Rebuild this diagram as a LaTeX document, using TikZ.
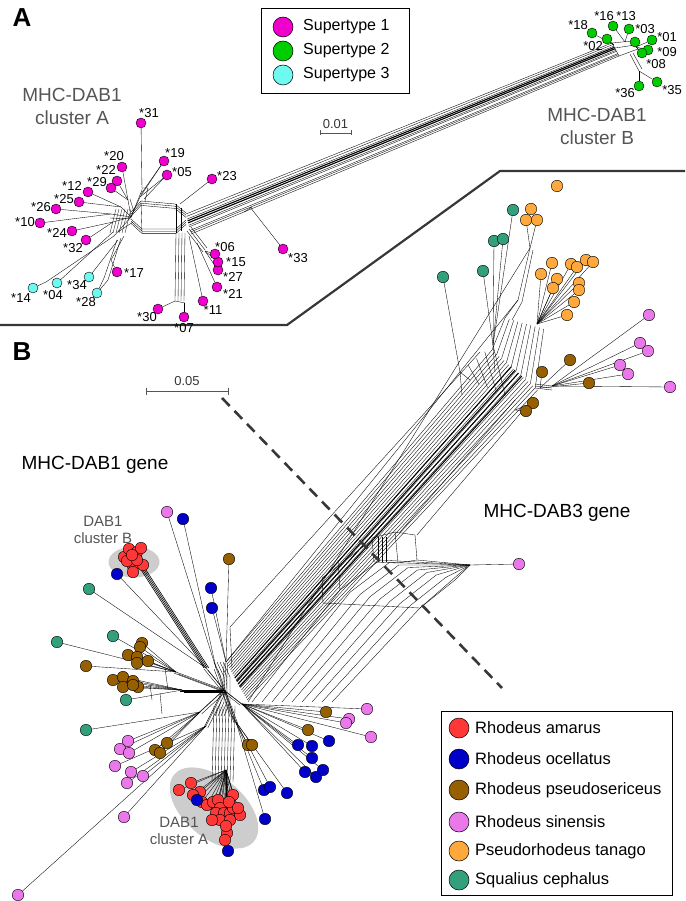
\documentclass[tikz,border=0pt]{standalone}
\usepackage{fontspec}
\setmainfont{Liberation Sans}
\usetikzlibrary{calc,backgrounds}

\definecolor{supone}{RGB}{240,0,205}
\definecolor{suptwo}{RGB}{0,205,0}
\definecolor{supthree}{RGB}{110,250,240}
\definecolor{amarus}{RGB}{255,55,55}
\definecolor{ocellatus}{RGB}{0,0,200}
\definecolor{pseudo}{RGB}{150,95,0}
\definecolor{sinensis}{RGB}{235,120,235}
\definecolor{tanago}{RGB}{255,168,60}
\definecolor{cephalus}{RGB}{50,160,125}
\definecolor{inkgray}{RGB}{55,55,55}
\definecolor{textgray}{RGB}{85,85,85}
\definecolor{ovalgray}{RGB}{205,205,205}

\tikzset{
  tip/.style={circle,draw,inner sep=0pt,minimum size=10pt,line width=0.4pt},
  leaf/.style={circle,draw,inner sep=0pt,minimum size=11.5pt,line width=0.4pt},
  key/.style={circle,draw,inner sep=0pt,minimum size=20pt,line width=0.5pt},
  sup1/.style={tip,fill=supone},
  sup2/.style={tip,fill=suptwo},
  sup3/.style={tip,fill=supthree},
  ram/.style={leaf,fill=amarus},
  roc/.style={leaf,fill=ocellatus},
  rps/.style={leaf,fill=pseudo},
  rsi/.style={leaf,fill=sinensis},
  pta/.style={leaf,fill=tanago},
  sce/.style={leaf,fill=cephalus},
  tag/.style={font=\fontsize{13}{13}\selectfont,inner sep=0pt},
  title/.style={font=\fontsize{26}{26}\selectfont\bfseries},
  head/.style={font=\fontsize{19}{23}\selectfont,align=center},
  small head/.style={font=\fontsize{15}{17}\selectfont,align=center,text=textgray},
  keytext/.style={anchor=west,inner sep=0pt},
  bar/.style={draw=textgray,line width=0.6pt},
  net/.style={line width=0.35pt},
  fat/.style={line width=1.1pt},
  border/.style={draw=inkgray,line width=2.2pt},
}

\begin{document}
\begin{tikzpicture}[x=1pt,y=-1pt]
  \useasboundingbox (0,0) rectangle (685,901);

  % panel letters and frame
  \node[title] (lA) at (22,18) {A};
  \node[title] (lB) at (22,352) {B};
  \draw[border] (0,325) -- (287,325) -- (500,171) -- (685,171);

  % legend of panel A
  \node[draw,line width=0.6pt,minimum width=148pt,minimum height=85pt] (keyA) at (335,50.5) {};
  \node[key,fill=supone] (k1) at (283,27) {};
  \node[key,fill=suptwo] (k2) at (283,51) {};
  \node[key,fill=supthree] (k3) at (283,75) {};
  \node[keytext,font=\fontsize{16}{16}\selectfont] (t1) at (303,27) {Supertype 1};
  \node[keytext,font=\fontsize{16}{16}\selectfont] (t2) at (303,51) {Supertype 2};
  \node[keytext,font=\fontsize{16}{16}\selectfont] (t3) at (303,75) {Supertype 3};

  \node[head,text=textgray] (hA) at (72,106) {MHC-DAB1\\cluster A};
  \node[head,text=textgray] (hB) at (597,126) {MHC-DAB1\\cluster B};

  % scale bars
  \coordinate (sa1) at (320,133);
  \coordinate (sa2) at (351,133);
  \draw[bar] (sa1) -- (sa2);
  \draw[bar] (320,130.5) -- (320,135.5);
  \draw[bar] (351,130.5) -- (351,135.5);
  \node[font=\fontsize{13}{13}\selectfont,text=inkgray] (sal) at (335.5,124) {0.01};
  \coordinate (sb1) at (146,391);
  \coordinate (sb2) at (228,391);
  \draw[bar] (sb1) -- (sb2);
  \draw[bar] (146,387.5) -- (146,394.5);
  \draw[bar] (228,387.5) -- (228,394.5);
  \node[font=\fontsize{13}{13}\selectfont,text=inkgray] (sbl) at (187,381) {0.05};

  % gene split
  \draw[inkgray,line width=2.6pt,dash pattern=on 11pt off 7pt] (222,398) -- (502,688);
  \node[head] (g1) at (95,465) {MHC-DAB1 gene};
  \node[head] (g3) at (557,513) {MHC-DAB3 gene};
  \node[small head] (dB) at (103,530) {DAB1\\cluster B};
  \node[small head] (dA) at (179,831) {DAB1\\cluster A};

  % legend of panel B
  \node[draw,line width=0.6pt,minimum width=231pt,minimum height=184pt] (keyB) at (556.5,803) {};
  \foreach \y/\c/\s [count=\i] in {728/amarus/Rhodeus amarus,759/ocellatus/Rhodeus ocellatus,
      790/pseudo/Rhodeus pseudosericeus,822/sinensis/Rhodeus sinensis,
      851/tanago/Pseudorhodeus tanago,880/cephalus/Squalius cephalus} {
    \node[key,fill=\c] (s\i) at (459,\y) {};
    \node[keytext,font=\fontsize{16.5}{16.5}\selectfont] (u\i) at (475,\y) {\s};
  }

  % panel A, cluster A
  \node[sup1] (a31) at (141,123) {};
  \node[sup1] (a20) at (122,167) {};
  \node[sup1] (a19) at (164,161) {};
  \node[sup1] (a05) at (167,175) {};
  \node[sup1] (a22) at (117,181) {};
  \node[sup1] (a29) at (111,188) {};
  \node[sup1] (a12) at (88,192) {};
  \node[sup1] (a25) at (79,202) {};
  \node[sup1] (a26) at (56,209) {};
  \node[sup1] (a10) at (40,223) {};
  \node[sup1] (a24) at (72,231) {};
  \node[sup1] (a32) at (86,240) {};
  \node[sup1] (a17) at (117,272) {};
  \node[sup3] (a34) at (89,277) {};
  \node[sup3] (a04) at (57,283) {};
  \node[sup3] (a14) at (33,288) {};
  \node[sup3] (a28) at (97,293) {};
  \node[sup1] (a30) at (158,309) {};
  \node[sup1] (a07) at (184,317) {};
  \node[sup1] (a11) at (203,301) {};
  \node[sup1] (a21) at (217,287) {};
  \node[sup1] (a27) at (218,270) {};
  \node[sup1] (a15) at (218,262) {};
  \node[sup1] (a06) at (215,254) {};
  \node[sup1] (a23) at (212,179) {};
  \node[sup1] (a33) at (283,249) {};
  \foreach \p/\s in {(149,113)/31,(114,156)/20,(175,153)/19,(106,170)/22,(182,172)/05,
      (97,182)/29,(227,176)/23,(72,186)/12,(64,199)/25,(41,207)/26,(25,222)/10,
      (57,233)/24,(73,248)/32,(225,247)/06,(236,262)/15,(233,277)/27,(298,258)/33,
      (134,273)/17,(77,285)/34,(233,294)/21,(21,298)/14,(53,295)/04,(86,302)/28,
      (213,310)/11,(147,317)/30,(184,328)/07}
    \node[tag] (n\s) at \p {*\s};

  % panel A, cluster B
  \node[sup2] (b18) at (592,33) {};
  \node[sup2] (b16) at (613,26) {};
  \node[sup2] (b13) at (629,29) {};
  \node[sup2] (b03) at (635,42) {};
  \node[sup2] (b02) at (607,39) {};
  \node[sup2] (b01) at (652,40) {};
  \node[sup2] (b09) at (648,50) {};
  \node[sup2] (b08) at (642,53) {};
  \node[sup2] (b36) at (639,86) {};
  \node[sup2] (b35) at (657,82) {};
  \foreach \p/\s in {(578,25)/18,(604,16)/16,(626,16)/13,(645,29)/03,(593,46)/02,
      (667,37)/01,(667,52)/09,(656,64)/08,(625,93)/36,(672,90)/35}
    \node[tag] (n\s) at \p {*\s};

  % panel B, tips
  \foreach \p [count=\i] in {(124,557),(129,549),(137,552),(141,548),(133,566),
      (143,565),(133,572),(127,561),(137,560),(132,555)}
    \node[ram] (rb\i) at \p {};
  \foreach \p [count=\i] in {(179,790),(191,783),(200,792),(193,795),(202,802),(207,805),
      (213,802),(218,800),(220,808),(216,813),(224,813),(230,813),(233,808),(240,815),
      (233,795),(229,802),(227,833),(225,840),(220,820),(230,820),(238,808),(212,820),(226,826)}
    \node[ram] (ra\i) at \p {};
  \foreach \p [count=\i] in {(183,519),(117,574),(211,588),(212,608),(197,800),(228,851),
      (298,745),(312,746),(329,741),(312,758),(305,772),(316,777),(323,770),
      (264,790),(270,787),(287,793),(265,819)}
    \node[roc] (oc\i) at \p {};
  \foreach \p [count=\i] in {(229,559),(142,643),(140,647),(128,655),(137,657),(137,663),
      (148,661),(86,666),(113,680),(123,677),(123,687),(133,681),(138,687),(133,685),
      (155,750),(160,753),(167,743),(248,745),(252,745),(326,712),(308,730),
      (570,360),(542,372),(589,383),(533,403),(526,411)}
    \node[rps] (ps\i) at \p {};
  \foreach \p [count=\i] in {(167,512),(128,741),(120,749),(129,753),(115,766),(131,772),
      (143,776),(127,783),(124,817),(18,895),(367,709),(349,719),(346,723),(371,737),
      (519,564),(649,315),(640,343),(648,351),(620,365),(628,374),(670,387)}
    \node[rsi] (si\i) at \p {};
  \foreach \p [count=\i] in {(557,186),(531,209),(526,220),(537,220),(552,263),(541,274),
      (571,264),(577,267),(586,260),(593,262),(557,279),(553,288),(579,283),(579,290),
      (574,302),(567,315)}
    \node[pta] (ta\i) at \p {};
  \foreach \p [count=\i] in {(89,589),(57,642),(113,636),(126,700),(86,730),
      (443,277),(483,271),(494,241),(503,239),(513,210)}
    \node[sce] (ce\i) at \p {};

  \begin{scope}[on background layer]
    % clusters marked in grey
    \fill[ovalgray] (134,562) ellipse [x radius=25.5, y radius=15.5];
    \fill[ovalgray,rotate around={-40:(214,808)}] (214,808) ellipse [x radius=52, y radius=30];

    % panel A, network of cluster A
    \foreach \o in {0,2.2,4.4} {
      \draw[net] (131,{212+\o}) -- (141,{201+\o}) -- (175,{204+\o}) -- (186,{213+\o});
      \draw[net] (131,{219+\o}) -- (142,{229+\o}) -- (176,{229+\o}) -- (186,{220+\o});
    }
    \draw[net] (141,201) -- (142,233.4);
    \draw[net] (176,204) -- (176,233.4);
    \draw[net] (181,208) -- (181,231);
    \foreach \x in {116,119,...,131} \draw[net] (\x,209) -- ({\x-6},233);
    \coordinate (lc) at (131,217);
    \coordinate (j31) at (142,190);
    \coordinate (j19) at (140,197);
    \coordinate (j20) at (128,200);
    \coordinate (j12) at (121,207);
    \coordinate (j26) at (111,214);
    \coordinate (j24) at (113,222);
    \coordinate (jcy) at (114,236);
    \draw[net] (a31) -- (j31) -- (lc);
    \draw[net] (142,188) -- (148,188) -- (145,201);
    \draw[net] (a19) -- (j19) -- (lc);
    \draw[net] (a05) -- (j19);
    \draw[net] (162,164) -- (141,194);
    \draw[net] (165,177) -- (144,199);
    \foreach \n in {a20,a22,a29} \draw[net] (\n) -- (j20);
    \draw[net] (j20) -- (lc);
    \draw[net] (130,199) -- (134,212);
    \foreach \n in {a12,a25} \draw[net] (\n) -- (j12);
    \draw[net] (j12) -- (lc);
    \foreach \n in {a26,a10} \draw[net] (\n) -- (j26);
    \draw[net] (j26) -- (lc);
    \draw[net] (110,218) -- (131,219);
    \foreach \n in {a24,a32} \draw[net] (\n) -- (j24);
    \draw[net] (j24) -- (lc);
    \draw[net] (a14) -- (46,282) -- (jcy);
    \draw[net] (a04) -- (113,232);
    \draw[net] (a34) -- (118,240);
    \draw[net] (a28) -- (108,280) -- (121,238);
    \draw[net] (a17) -- (111,260) -- (124,236);
    \draw[net] (a28) -- (104,278) -- (117,240);
    \draw[net] (jcy) -- (lc);
    \draw[net] (118,232) -- (133,222);

    % panel A, towards the right of cluster A
    \coordinate (j23) at (180,204);
    \coordinate (j30) at (175,301);
    \coordinate (j07) at (184,303);
    \coordinate (j11) at (189,236);
    \coordinate (j06) at (205,251);
    \coordinate (j21) at (197,243);
    \draw[net] (a23) -- (j23);
    \foreach \x in {176,179,182,185} \draw[net] (\x,233) -- ({\x-1},301);
    \draw[net] (175,301) -- (185,303);
    \draw[net] (a30) -- (j30);
    \draw[net] (a07) -- (j07);
    \draw[net] (a11) -- (j11);
    \foreach \o in {0,2,4} \draw[net] ({187+\o},{231-\o}) -- ({203+\o},{252-\o});
    \foreach \n in {a06,a15,a27} \draw[net] (\n) -- (j06);
    \draw[net] (a21) -- (j21);

    % long bundle between clusters A and B
    \coordinate (s1) at (186,214);
    \coordinate (s2) at (191,234);
    \coordinate (e1) at (612,43);
    \coordinate (e2) at (619,56);
    \foreach \t in {0,0.12,0.25,0.56,0.64,0.82,0.9,1}
      \draw[net] ($(s1)!\t!(s2)$) -- ($(e1)!\t!(e2)$);
    \foreach \t in {0.34,0.44} \draw[fat] ($(s1)!\t!(s2)$) -- ($(e1)!\t!(e2)$);
    \coordinate (j33) at (250,207);
    \draw[net] (a33) -- (j33);
    \draw[net] (244,212) -- (252,207);

    % panel A, network of cluster B
    \draw[net] (612,43) -- (632,41) -- (638,49) -- (619,56) -- cycle;
    \draw[net] (615,48) -- (635,45);
    \coordinate (hb1) at (614,45);
    \coordinate (hb2) at (625,42);
    \coordinate (hb3) at (636,47);
    \coordinate (hb4) at (630,54);
    \coordinate (j35) at (639,71);
    \foreach \n in {b18,b02} \draw[net] (\n) -- (hb1);
    \foreach \n in {b16,b13} \draw[net] (\n) -- (hb2);
    \foreach \n in {b03,b01,b09,b08} \draw[net] (\n) -- (hb3);
    \draw[net] (hb4) -- (j35);
    \draw[net] (633,53) -- (642,69);
    \draw[net] (b36) -- (j35);
    \draw[net] (b35) -- (j35);

    % panel B, trunk between the genes
    \coordinate (hc) at (224,690);
    \coordinate (ta1) at (226,662);
    \coordinate (ta2) at (248,702);
    \coordinate (tb1) at (492,350);
    \coordinate (tb2) at (540,392);
    \foreach \t in {0,0.05,...,1.0}
      \draw[net] ($(ta1)!\t!(ta2)$) -- ($(tb1)!\t!(tb2)$);
    \foreach \t in {0.4,0.48,0.55,0.62}
      \draw[fat] ($(ta1)!\t!(ta2)$) -- ($(tb1)!\t!(tb2)$);
    \draw[net] (230,627) -- (480,352);
    \draw[net] (230,627) -- (232,668);
    \draw[net] (417,535) -- (525,408);
    \draw[net] (400,532) -- (515,400);

    % wide band to the lone sinensis tip
    \coordinate (wa1) at (252,702);
    \coordinate (wa2) at (332,702);
    \coordinate (wb1) at (340,590);
    \coordinate (wb2) at (420,608);
    \coordinate (jp) at (470,565);
    \foreach \t in {0,0.125,...,1.0}
      \draw[net] ($(wa1)!\t!(wa2)$) -- ($(wb1)!\t!(wb2)$) -- ($(380,560)!\t!(455,580)$) -- (jp);
    \draw[net] (323,603) -- (420,608) -- (467,567);
    \draw[net] (323,603) -- (322,578) -- (372,540);
    \draw[net] (340,590) -- (338,560);
    \draw[net] (372,538) -- (395,532) -- (415,535) -- (417,560) -- (398,563) -- (374,562) -- cycle;
    \draw[net] (395,532) -- (398,563);
    \foreach \x in {378,382,386} \draw[net] (\x,537) -- (\x,562);
    \draw[net] (417,560) -- (jp);
    \draw[net] (si15) -- (jp);

    % panel B, upper end of the trunk
    \coordinate (ua1) at (505,318);
    \coordinate (ua2) at (548,330);
    \coordinate (ug1) at (460,372);
    \coordinate (ug2) at (493,345);
    \coordinate (uo1) at (518,300);
    \coordinate (uo3) at (530,248);
    \coordinate (uo2) at (537,324);
    \coordinate (up) at (552,386);
    \coordinate (ub) at (540,388);
    \coordinate (ul) at (515,410);
    \foreach \t in {0,0.1,...,1.0}
      \draw[net] ($(tb1)!\t!(tb2)$) -- ($(ua1)!\t!(ua2)$);
    \foreach \t in {0,0.25,...,1.0}
      \draw[net] ($(470,380)!\t!(505,395)$) -- ($(ug1)!\t!(ug2)$);
    \draw[net] (ce6) -- (ug1);
    \draw[net] (ug1) -- (462,395);
    \foreach \n in {ce7,ce8,ce9,ce10} \draw[net] (\n) -- (ug2);
    \draw[net] (ug2) -- (495,372);
    \draw[net] (ta1) -- (uo1);
    \foreach \n in {ta2,ta3,ta4} \draw[net] (\n) -- (uo3);
    \draw[net] (uo3) -- (uo1) -- (ua1);
    \draw[net] (533,250) -- (522,302) -- (512,320);
    \foreach \n in {ta5,ta6,ta7,ta8,ta9,ta10,ta11,ta12,ta13,ta14,ta15,ta16} \draw[net] (\n) -- (uo2);
    \foreach \n in {si16,si17,si18,si19,si20,si21} \draw[net] (\n) -- (up);
    \foreach \o in {0,2,4} \draw[net] (552,{386+\o}) -- (535,{384+\o});
    \foreach \n in {ps22,ps23,ps24} \draw[net] (\n) -- (ub);
    \foreach \n in {ps25,ps26} \draw[net] (\n) -- (ul);

    % panel B, around the hub of the DAB1 gene
    \coordinate (cA) at (216,668);
    \coordinate (cB) at (206,668);
    \coordinate (cC) at (226,662);
    \coordinate (cD) at (176,672);
    \coordinate (cE) at (182,690);
    \coordinate (cF) at (200,712);
    \coordinate (cG) at (206,726);
    \coordinate (cH) at (226,770);
    \coordinate (cI) at (242,704);
    \coordinate (cJ) at (236,722);
    \coordinate (cK) at (232,716);
    \coordinate (rbj) at (141,566);
    \foreach \o in {0,3,6,9} \draw[net] ({214+\o},662) -- ({221+\o},677) -- ({221+\o},702) -- ({215+\o},716);
    \foreach \c in {cA,cB,cC,cD,cE,cF,cG,cI,cJ,cK} {
      \draw[net] (\c) -- (hc);
      \draw[net] ($(\c)+(1.8,1.8)$) -- ($(hc)+(1.8,1.8)$);
      \draw[net] ($(\c)+(-1.8,1.2)$) -- ($(hc)+(-1.8,1.2)$);
    }
    \foreach \x in {214,217,...,236} \draw[net] (\x,706) -- ({\x-2},782);
    \foreach \o in {0,1.6,3.2,4.8} \draw[line width=0.6pt] ({138+\o},565) -- ({204+\o},668);
    \foreach \i in {1,...,10} \draw[net] (rb\i) -- (rbj);
    \draw[net] (si1) -- (cA);
    \draw[net] (oc1) -- (cA);
    \draw[net] (oc2) -- (cB);
    \draw[net] (ce1) -- (cB);
    \foreach \n in {ps1,oc3,oc4} \draw[net] (\n) -- (cC);
    \foreach \n in {ce2,ce3,ps2,ps3,ps4,ps5,ps6,ps7,ps8} \draw[net] (\n) -- (cD);
    \foreach \n in {ps9,ps10,ps11,ps12,ps13,ps14,ce4} \draw[net] (\n) -- (cE);
    \foreach \n in {ce5,si2,si3,si4,ps15,ps16,ps17} \draw[net] (\n) -- (cF);
    \foreach \n in {si5,si6,si7,si8,si9,si10} \draw[net] (\n) -- (cG);
    \foreach \i in {1,...,23} \draw[net] (ra\i) -- (cH);
    \draw[net] (oc5) -- (cH);
    \draw[net] (oc6) -- (cH);
    \foreach \n in {ps18,ps19} \draw[net] (\n) -- (cK);
    \foreach \n in {ps20,ps21,si11,si12,si13,si14,oc7,oc8,oc9,oc10,oc11,oc12,oc13} \draw[net] (\n) -- (cI);
    \foreach \n in {oc14,oc15,oc16,oc17} \draw[net] (\n) -- (cJ);
    \draw[net] (160,693) -- (162,714);
    \draw[net] (150,684) -- (152,700);
    \draw[net] (165,668) -- (168,690);
  \end{scope}
\end{tikzpicture}
\end{document}
